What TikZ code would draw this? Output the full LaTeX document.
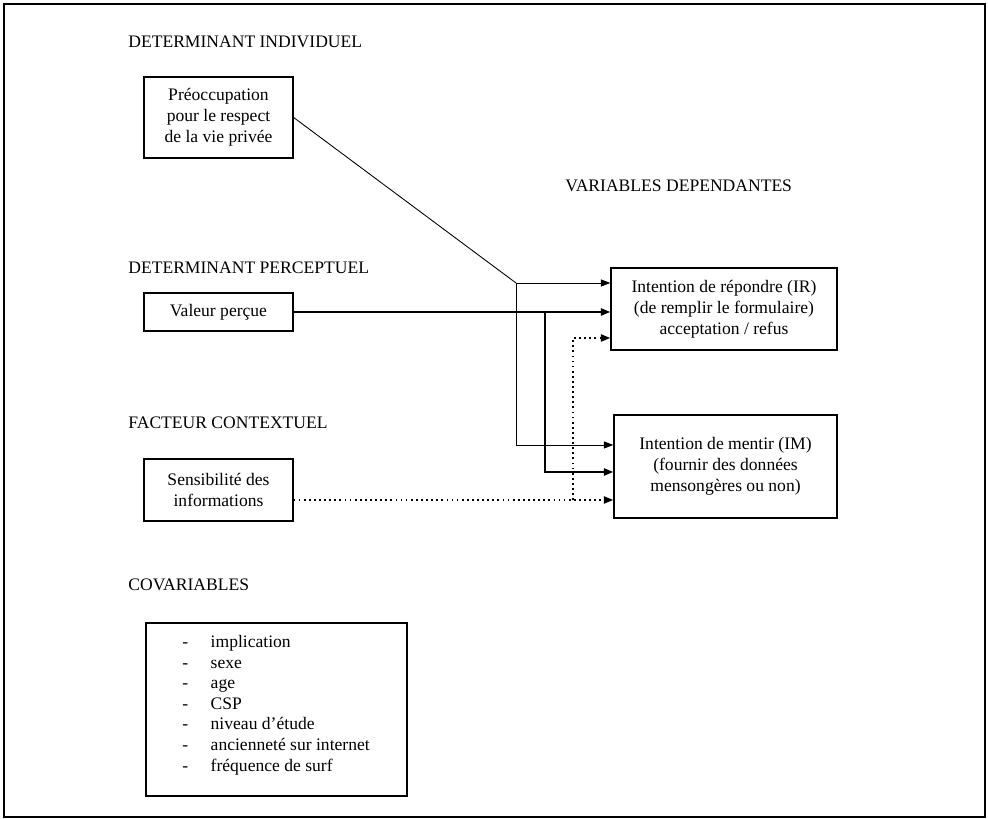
\documentclass[tikz,border=0pt]{standalone}
\usepackage{fontspec}
\setmainfont{Liberation Serif}
\usetikzlibrary{arrows.meta}

\begin{document}
\begin{tikzpicture}[>={Triangle[length=1.9mm,width=1.4mm]},font=\fontsize{10}{11.9}\selectfont,
  box/.style={draw,line width=0.7pt,align=center,inner sep=0pt},
  head/.style={anchor=base west,inner sep=0pt},
  link/.style={->,line width=0.5pt},
  strong/.style={->,line width=1.3pt},
  dotlink/.style={->,line width=1.2pt,dash pattern=on 1pt off 1.9pt}]
\useasboundingbox (0,0) rectangle (19.76,16.38);
\draw[line width=0.7pt] (0.08,0.04) rectangle (19.70,16.30);
% titres
\node[head] (hind) at (2.56,15.42) {DETERMINANT INDIVIDUEL};
\node[head] (hdep) at (11.30,12.54) {VARIABLES DEPENDANTES};
\node[head] (hper) at (2.56,10.90) {DETERMINANT PERCEPTUEL};
\node[head] (hctx) at (2.56,7.80) {FACTEUR CONTEXTUEL};
\node[head] (hcov) at (2.56,4.56) {COVARIABLES};
% cadres
\node[box,minimum width=2.98cm,minimum height=1.62cm] (pvp) at (4.37,14.03) {Préoccupation\\pour le respect\\de la vie privée};
\node[box,minimum width=2.98cm,minimum height=0.76cm] (vp) at (4.37,10.14) {Valeur perçue};
\node[box,minimum width=2.98cm,minimum height=1.24cm] (sens) at (4.37,6.58) {Sensibilité des\\informations};
\node[box,minimum width=4.52cm,minimum height=1.64cm] (ir) at (14.48,10.20) {Intention de répondre (IR)\\(de remplir le formulaire)\\acceptation / refus};
\node[box,minimum width=4.46cm,minimum height=2.06cm] (im) at (14.51,7.05) {Intention de mentir (IM)\\(fournir des données\\mensongères ou non)};
\node[box,minimum width=5.22cm,minimum height=3.46cm] (cov) at (5.53,2.19) {};
\node[anchor=north west,inner sep=0pt,font=\fontsize{10}{11.7}\selectfont] (covlist) at (3.64,3.72)
  {\begin{tabular}{@{}l@{\hspace{0.45cm}}l@{}}
  - & implication\\
  - & sexe\\
  - & age\\
  - & CSP\\
  - & niveau d'étude\\
  - & ancienneté sur internet\\
  - & fréquence de surf
  \end{tabular}};
% liens
\coordinate (j1) at (10.32,10.72);
\coordinate (j3) at (10.90,10.14);
\coordinate (j4) at (11.46,6.38);
\draw[line width=0.5pt] (pvp.east) -- (j1);
\draw[link] (j1) -- (ir.west |- j1);
\draw[link] (j1) |- ([yshift=0.43cm]im.west);
\draw[strong] (vp.east) -- (ir.west |- vp.east);
\draw[strong] (j3) |- ([yshift=-0.11cm]im.west);
\draw[dotlink] ([yshift=-0.20cm]sens.east) -- (im.west |- j4);
\draw[dotlink] (j4) |- ([yshift=-0.58cm]ir.west);
\end{tikzpicture}
\end{document}
